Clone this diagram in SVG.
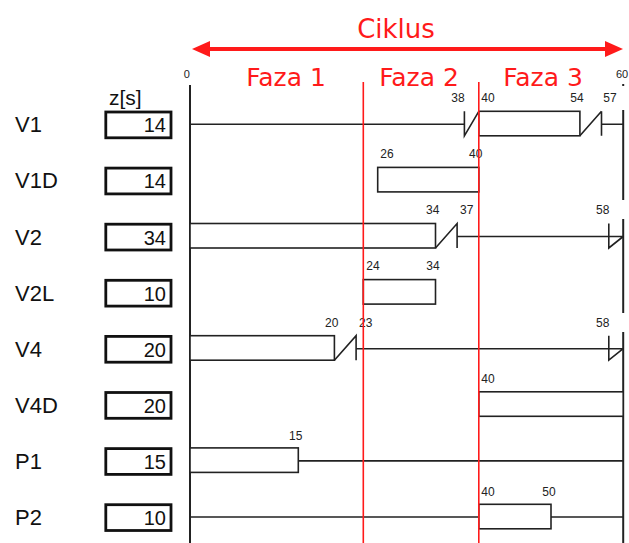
<svg xmlns="http://www.w3.org/2000/svg" width="629" height="543" viewBox="0 0 629 543">
<style>
.bg{fill:#fff}
.tl{fill:none;stroke:#222;stroke-width:1.6;stroke-linejoin:miter}
.bx{fill:#fff;stroke:#222;stroke-width:1.6}
.dur{fill:#fff;stroke:#111;stroke-width:2.8}
.ax{stroke:#222;stroke-width:2;fill:none}
.red{stroke:#ff1a1a;stroke-width:1.6;fill:none}
.ahd{fill:#ff1a1a}
.lbl{font-family:"Liberation Sans",Arial,sans-serif;font-size:22px;fill:#111}
.num{font-family:"Liberation Sans",Arial,sans-serif;font-size:20px;fill:#111;text-anchor:end}
.tk{font-family:"Liberation Sans",Arial,sans-serif;font-size:12px;fill:#222;text-anchor:middle}
.ph{font-family:"DejaVu Sans",Verdana,sans-serif;font-size:25px;fill:#ff1a1a;text-anchor:middle}
</style>
<rect class="bg" x="0" y="0" width="629" height="543"/>

<g id="header">
<text class="ph" x="396" y="38" style="font-size:26px">Ciklus</text>
<line x1="205" y1="49" x2="610" y2="49" stroke="#ff1a1a" stroke-width="4"/>
<polygon class="ahd" points="192,49 210,41 210,57"/>
<polygon class="ahd" points="623,49 605,41 605,57"/>
<text class="ph" x="286" y="86">Faza 1</text>
<text class="ph" x="419" y="86">Faza 2</text>
<text class="ph" x="543" y="86">Faza 3</text>
<text class="tk" x="186.7" y="78" style="font-size:11px">0</text>
<text class="tk" x="616" y="78" style="font-size:11px;text-anchor:start">60</text>
<text class="lbl" x="109" y="105" style="font-size:21px">z[s]</text>
</g>

<g id="connectors">
<line class="ax" x1="190" y1="85" x2="190" y2="543"/>
<line class="ax" x1="623.2" y1="84" x2="623.2" y2="86"/>
<line class="ax" x1="623.2" y1="110" x2="623.2" y2="200"/>
<line class="ax" x1="623.2" y1="219" x2="623.2" y2="313"/>
<line class="ax" x1="623.2" y1="332" x2="623.2" y2="543"/>
</g>

<g id="V1">
<text class="lbl" x="15" y="132.3">V1</text>
<rect class="dur" x="105.8" y="112" width="65.2" height="25.8"/>
<text class="num" x="166" y="132.3">14</text>
<path class="tl" d="M190,124.3 H464.4 M464.4,111.3 V135.8 L478.8,111.3 M579.9,135.8 L601.5,111.3 M601.5,111.3 V135.8 M601.5,124.3 H623.2"/>
<rect class="bx" x="478.8" y="111.3" width="101.1" height="24.5"/>
<text class="tk" x="458" y="102">38</text>
<text class="tk" x="488" y="102">40</text>
<text class="tk" x="577" y="102">54</text>
<text class="tk" x="610" y="102">57</text>
</g>

<g id="V1D">
<text class="lbl" x="15" y="188.4">V1D</text>
<rect class="dur" x="105.8" y="168.1" width="65.2" height="25.8"/>
<text class="num" x="166" y="188.4">14</text>
<rect class="bx" x="377.7" y="167.4" width="101.1" height="24.5"/>
<text class="tk" x="387" y="158">26</text>
<text class="tk" x="475.7" y="158">40</text>
</g>

<g id="V2">
<text class="lbl" x="15" y="244.5">V2</text>
<rect class="dur" x="105.8" y="224.2" width="65.2" height="25.8"/>
<text class="num" x="166" y="244.5">34</text>
<rect class="bx" x="190" y="223.5" width="245.5" height="24.5"/>
<path class="tl" d="M435.5,248 L457.1,223.5 V248 M457.1,236.5 H623.2 M608.8,223.5 V248 L623.2,236.5"/>
<text class="tk" x="432.7" y="214">34</text>
<text class="tk" x="466.7" y="214">37</text>
<text class="tk" x="602.7" y="214">58</text>
</g>

<g id="V2L">
<text class="lbl" x="15" y="300.6">V2L</text>
<rect class="dur" x="105.8" y="280.3" width="65.2" height="25.8"/>
<text class="num" x="166" y="300.6">10</text>
<rect class="bx" x="363.3" y="279.6" width="72.2" height="24.5"/>
<text class="tk" x="373" y="270">24</text>
<text class="tk" x="433" y="270">34</text>
</g>

<g id="V4">
<text class="lbl" x="15" y="356.7">V4</text>
<rect class="dur" x="105.8" y="336.4" width="65.2" height="25.8"/>
<text class="num" x="166" y="356.7">20</text>
<rect class="bx" x="190" y="335.7" width="144.4" height="24.5"/>
<path class="tl" d="M334.4,360.2 L356.1,335.7 V360.2 M356.1,348.7 H623.2 M608.8,335.7 V360.2 L623.2,348.7"/>
<text class="tk" x="331.7" y="327">20</text>
<text class="tk" x="365.7" y="327">23</text>
<text class="tk" x="602.7" y="327">58</text>
</g>

<g id="V4D">
<text class="lbl" x="15" y="412.8">V4D</text>
<rect class="dur" x="105.8" y="392.5" width="65.2" height="25.8"/>
<text class="num" x="166" y="412.8">20</text>
<rect class="bx" x="478.8" y="391.8" width="144.4" height="24.5"/>
<text class="tk" x="488" y="383">40</text>
</g>

<g id="P1">
<text class="lbl" x="15" y="468.9">P1</text>
<rect class="dur" x="105.8" y="448.6" width="65.2" height="25.8"/>
<text class="num" x="166" y="468.9">15</text>
<rect class="bx" x="190" y="447.9" width="108.3" height="24.5"/>
<path class="tl" d="M298.3,460.9 H623.2"/>
<text class="tk" x="295.7" y="440">15</text>
</g>

<g id="P2">
<text class="lbl" x="15" y="525">P2</text>
<rect class="dur" x="105.8" y="504.7" width="65.2" height="25.8"/>
<text class="num" x="166" y="525">10</text>
<path class="tl" d="M190,517 H478.8 M551,517 H623.2"/>
<rect class="bx" x="478.8" y="504.3" width="72.2" height="24.5"/>
<text class="tk" x="488" y="496">40</text>
<text class="tk" x="549" y="496">50</text>
</g>

<g id="phase-lines">
<line class="red" x1="363.3" y1="82" x2="363.3" y2="543"/>
<line class="red" x1="478.8" y1="82" x2="478.8" y2="543"/>
</g>
</svg>
